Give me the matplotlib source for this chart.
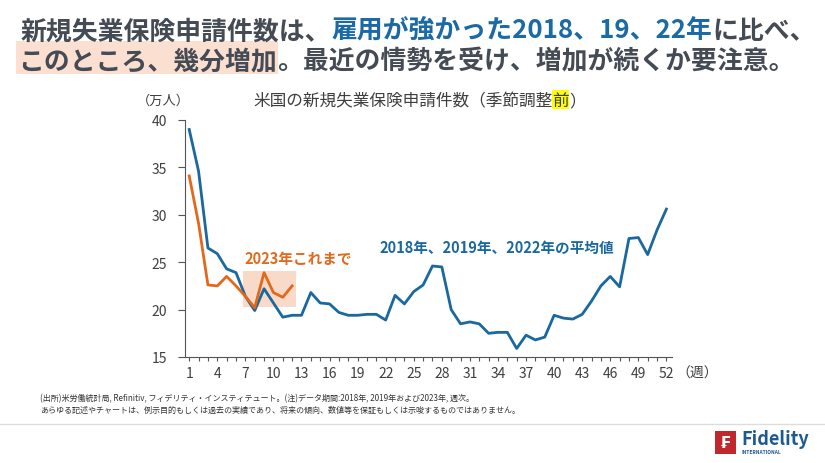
import matplotlib.pyplot as plt
from matplotlib.patches import Rectangle
import numpy as np

plt.rcParams['font.family'] = ['Noto Sans CJK JP', 'DejaVu Sans']

# weekly initial claims, 10k persons
weeks = np.arange(1, 53)
avg_18_19_22 = [39.0, 34.6, 26.5, 25.9, 24.3, 23.9, 21.4, 19.9, 22.2, 20.7,
                19.2, 19.4, 19.4, 21.8, 20.7, 20.6, 19.7, 19.4, 19.4, 19.5,
                19.5, 18.9, 21.5, 20.6, 21.9, 22.6, 24.6, 24.5, 20.0, 18.5,
                18.7, 18.5, 17.5, 17.6, 17.6, 15.9, 17.3, 16.8, 17.1, 19.4,
                19.1, 19.0, 19.5, 20.9, 22.5, 23.5, 22.4, 27.5, 27.6, 25.8,
                28.4, 30.6]
weeks_2023 = np.arange(1, 13)
claims_2023 = [34.1, 29.1, 22.6, 22.5, 23.5, 22.5, 21.4, 20.2, 23.9, 21.8,
               21.3, 22.5]

yticks = [15, 20, 25, 30, 35, 40]
xlabels = [str(w) if (w - 1) % 3 == 0 else '' for w in weeks]

BLUE = '#19689f'
ORANGE = '#e2691c'
GREY = '#3f3f3f'
HEAD_GREY = '#454b54'
HEAD_BLUE = '#1b6aa5'

W, H = 825, 464
fig = plt.figure(figsize=(W / 100, H / 100), dpi=100)
ax = fig.add_axes([185 / W, 1 - 358 / H, (672 - 185) / W, (358 - 121) / H])
r = fig.canvas.get_renderer()

# highlight box for recent weeks
ax.add_patch(Rectangle((6.8, 20.25), 5.6, 3.85, facecolor='#f9dac8',
                       edgecolor='none', zorder=0))
ax.plot(weeks, avg_18_19_22, color=BLUE, lw=2, zorder=3)
ax.plot(weeks_2023, claims_2023, color=ORANGE, lw=2, zorder=4)

ax.set_xlim(0.55, 52.6)
ax.set_ylim(15, 40)
ax.set_yticks(yticks)
ax.set_xticks(weeks)
ax.set_xticklabels(xlabels)
for s in ['top', 'right']:
    ax.spines[s].set_visible(False)
for s in ['left', 'bottom']:
    ax.spines[s].set_color('#555555')
    ax.spines[s].set_linewidth(0.8)
ax.tick_params(axis='both', colors='#555555', labelcolor=GREY, labelsize=10,
               width=0.8, length=3)
ax.tick_params(axis='y', length=5, pad=8)

ax.text(6.9, 25.45, '2023年これまで', color=ORANGE, fontsize=10.5,
        fontweight='bold', va='center', ha='left')
ax.text(21.3, 26.6, '2018年、2019年、2022年の平均値', color=BLUE, fontsize=10.5,
        fontweight='bold', va='center', ha='left')


def run(pieces, x0, y0, size, weight='bold'):
    # place text pieces one after another on the same baseline
    x = x0
    out = []
    for txt, col in pieces:
        t = fig.text(x / W, 1 - y0 / H, txt, fontsize=size, fontweight=weight,
                     color=col, ha='left', va='baseline', zorder=5)
        bb = t.get_window_extent(renderer=r)
        out.append(bb)
        x += bb.width
    return out


# chart title with yellow mark on 前
tb = run([('米国の新規失業保険申請件数（季節調整', GREY), ('前', GREY), ('）', GREY)],
         253, 106, 12, weight='normal')
fb = tb[1]
fig.patches.append(Rectangle((fb.x0 / W, 1 - 110 / H), fb.width / W, 19 / H,
                             transform=fig.transFigure, facecolor='#ffff00',
                             edgecolor='none', zorder=1))
fig.text(163 / W, 1 - 101 / H, '（万人）', fontsize=9.5, color=GREY,
         ha='center', va='center')
fig.text(676 / W, 1 - 374 / H, '（週）', fontsize=10, color=GREY,
         ha='left', va='center')

# headline with mixed colours
run([('新規失業保険申請件数は、', HEAD_GREY), ('雇用が強かった2018、19、22年', HEAD_BLUE),
     ('に比べ、', HEAD_GREY)], 21, 39, 18.6)
hb = run([('このところ、幾分増加', HEAD_GREY),
          ('。最近の情勢を受け、増加が続くか要注意。', HEAD_GREY)], 18, 69, 18.6)
fig.patches.append(Rectangle((16 / W, 1 - 75 / H), (hb[0].x1 + 1 - 16) / W, 33 / H,
                             transform=fig.transFigure, facecolor='#fbe0d1',
                             edgecolor='none', zorder=1))

# footnotes
fig.text(40 / W, 1 - 399 / H,
         '(出所)米労働統計局, Refinitiv, フィデリティ・インスティテュート。(注)データ期間:2018年, 2019年および2023年, 週次。',
         fontsize=5.8, color='#333333', va='center')
fig.text(40 / W, 1 - 410 / H,
         'あらゆる記述やチャートは、例示目的もしくは過去の実績であり、将来の傾向、数値等を保証もしくは示唆するものではありません。',
         fontsize=5.8, color='#333333', va='center')

fig.add_artist(plt.Line2D([0, 1], [1 - 425 / H, 1 - 425 / H],
                          transform=fig.transFigure, color='#dddddd', lw=1))

# logo
fig.patches.append(Rectangle((715 / W, 1 - 455 / H), 21 / W, 23 / H,
                             transform=fig.transFigure, facecolor='#c0282d',
                             edgecolor='none'))
fig.text(725.5 / W, 1 - 443.5 / H, '₣', color='white', fontsize=11,
         fontweight='bold', ha='center', va='center')
fig.text(741 / W, 1 - 440 / H, 'Fidelity', color='#1d5a8e', fontsize=13,
         fontweight='bold', ha='left', va='center')
fig.text(742 / W, 1 - 453 / H, 'INTERNATIONAL', color='#1d5a8e', fontsize=3.5,
         fontweight='bold', ha='left', va='center')

fig.savefig('out.png', dpi=100)
